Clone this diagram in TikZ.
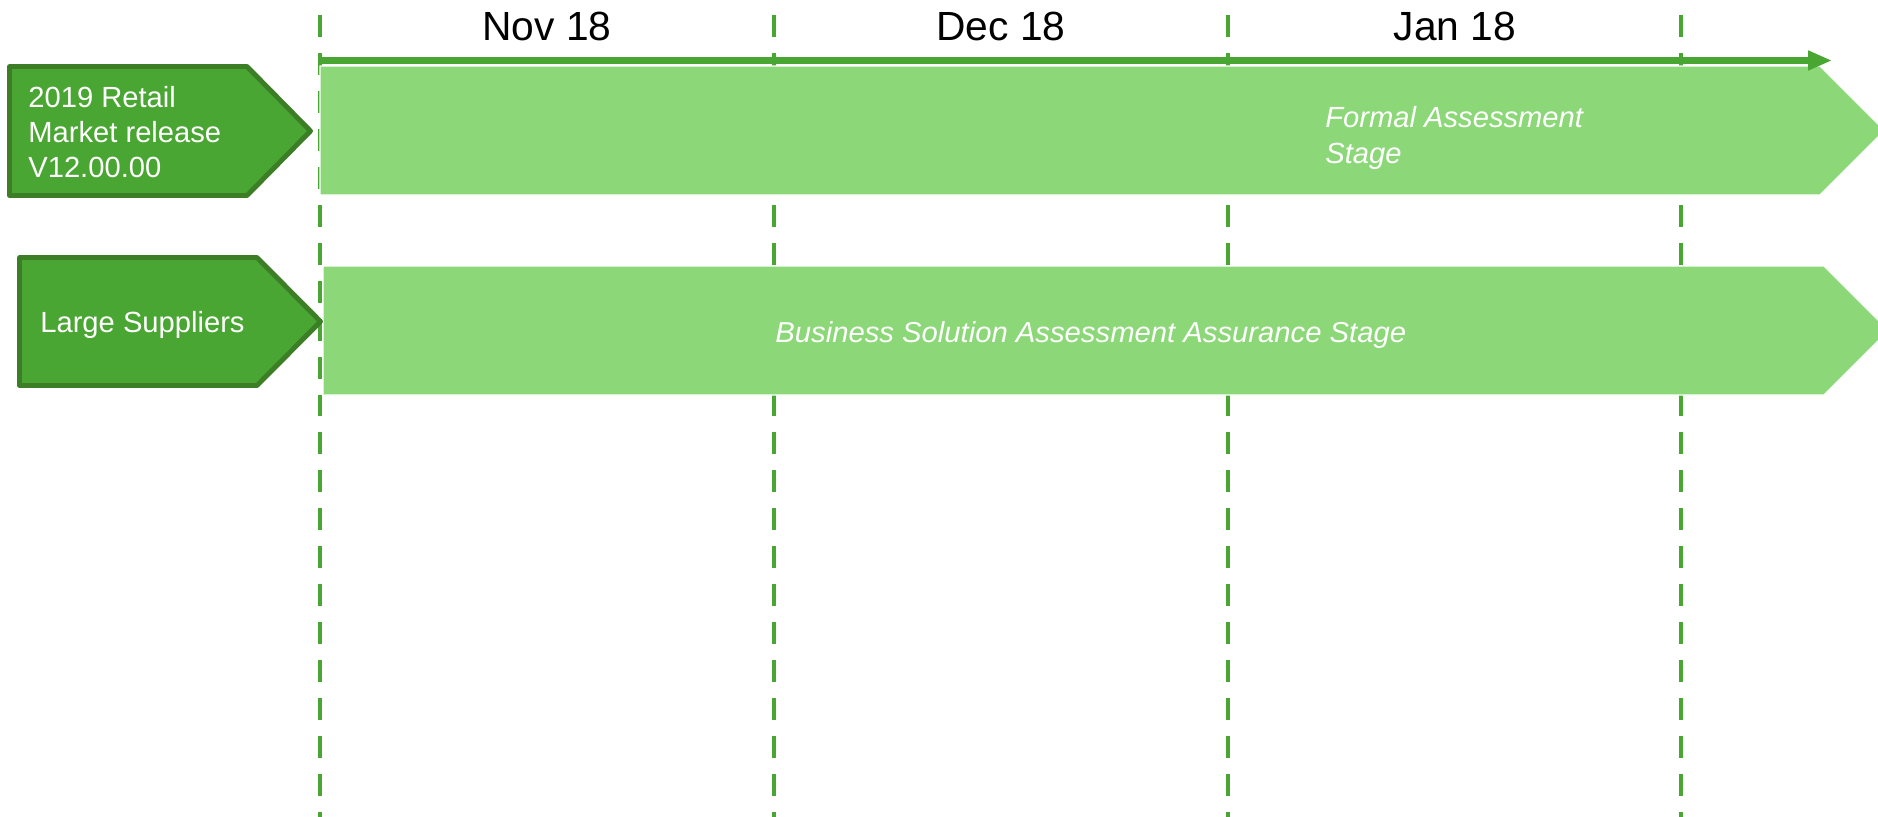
\documentclass[tikz,border=0pt]{standalone}
\usepackage{fontspec}
\setmainfont{Liberation Sans}
\usetikzlibrary{arrows.meta}
\definecolor{darkfill}{HTML}{4AA632}
\definecolor{darkline}{HTML}{3B7E26}
\definecolor{lightbar}{HTML}{8CD878}
\definecolor{dashgreen}{HTML}{4AA632}
\tikzset{
  gridline/.style={draw=dashgreen, line width=2.8pt, dash pattern=on 12.5pt off 9.1pt},
  labelshape/.style={fill=darkfill, draw=darkline, line width=2.8pt, line join=round},
  barshape/.style={fill=lightbar, draw=white, line width=0.8pt},
  timeline/.style={draw=dashgreen, line width=4pt, -{Triangle[length=13.6pt,width=10.5pt]}},
  monthtext/.style={inner sep=0pt, anchor=base, font=\fontsize{23.2}{27}\selectfont, text=black},
  labeltext/.style={inner sep=0pt, anchor=base west, font=\fontsize{16.6}{19.8}\selectfont, text=white},
  stagetext/.style={inner sep=0pt, anchor=base west, font=\fontsize{16.6}{19.8}\selectfont\itshape, text=white}
}
\begin{document}
\begin{tikzpicture}[x=0.02cm, y=-0.02cm]
\useasboundingbox (0,0) rectangle (1878,816);
\clip (0,0) rectangle (1878,816);
% vertical dashed grid lines
\foreach \gx/\gn in {320/g1, 774/g2, 1228/g3, 1681/g4} {
  \coordinate (\gn top) at (\gx,15);
  \coordinate (\gn bot) at (\gx,830);
  \draw[gridline] (\gn top) -- (\gn bot);
}
% bars
\draw[barshape] (320,66) -- (1820,66) -- (1884.5,130.5) -- (1820,195) -- (320,195) -- cycle;
\draw[barshape] (323,266) -- (1824,266) -- (1888.5,330.5) -- (1824,395) -- (323,395) -- cycle;
% timeline arrow
\coordinate (tlstart) at (320,60.5);
\coordinate (tlend) at (1832,60.5);
\draw[timeline] (tlstart) -- (tlend);
% left labels
\draw[labelshape] (9.5,66.5) -- (247,66.5) -- (310.5,131) -- (247,195.5) -- (9.5,195.5) -- cycle;
\draw[labelshape] (19.5,257.5) -- (257,257.5) -- (320.5,321.5) -- (257,385.5) -- (19.5,385.5) -- cycle;
% month labels
\node[monthtext] (nov) at (547,40) {Nov 18};
\node[monthtext] (dec) at (1001,40) {Dec 18};
\node[monthtext] (jan) at (1455,40) {Jan 18};
% label texts
\node[labeltext] (l1a) at (28,107) {2019 Retail};
\node[labeltext] (l1b) at (28,142) {Market release};
\node[labeltext] (l1c) at (28,177) {V12.00.00};
\node[labeltext] (l2) at (40,332) {Large Suppliers};
% stage texts
\node[stagetext] (fa1) at (1325,127) {Formal Assessment};
\node[stagetext] (fa2) at (1325,163) {Stage};
\node[inner sep=0pt, anchor=base west, text=white] (bs) at (775,342)
  {\resizebox{12.62cm}{\height}{\fontsize{16.4}{19.8}\selectfont\itshape Business Solution Assessment Assurance Stage}};
\end{tikzpicture}
\end{document}
